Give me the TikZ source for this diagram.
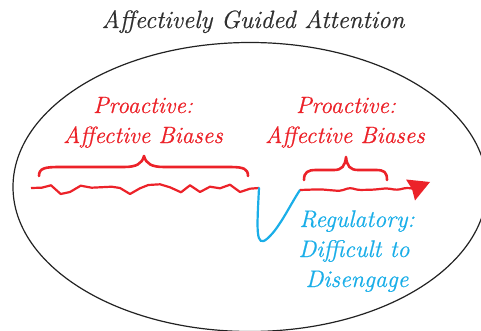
\documentclass[tikz,border=0pt]{standalone}
\usepackage{fontspec}
\newfontfamily\figfont{Latin Modern Roman}[FakeBold=0.6]
\definecolor{affred}{HTML}{EC2229}
\definecolor{affblue}{HTML}{1AAEE8}
\definecolor{titlegray}{HTML}{303030}
\definecolor{ringgray}{HTML}{222222}
\begin{document}
\begin{tikzpicture}[x=1pt,y=-1pt,
  titletext/.style={anchor=base,inner sep=0pt,text=titlegray,font=\figfont\fontsize{25}{29}\selectfont\itshape},
  redtext/.style={anchor=base,inner sep=0pt,text=affred,font=\figfont\fontsize{23.5}{27}\selectfont\itshape},
  bluetext/.style={anchor=base,inner sep=0pt,text=affblue,font=\figfont\fontsize{24}{28}\selectfont\itshape},
  bracepath/.style={draw=affred,line width=2.6pt,line cap=round,line join=round},
  wavepath/.style={draw=affred,line width=2.2pt,line join=round},
  bluepath/.style={draw=affblue,line width=2.2pt,line cap=round},
  ring/.style={draw=ringgray,line width=1.2pt}]
\useasboundingbox (0,0) rectangle (481,331);
\begin{scope}
\clip (0,0) rectangle (481,331);
\draw[ring] (250,187) ellipse[x radius=237,y radius=144.5];
\end{scope}
\node[titletext] (title) at (253,28) {Affectively Guided Attention};
\node[redtext] (pro1) at (143,113) {Proactive:};
\node[redtext] (bias1) at (143,143) {Affective Biases};
\node[redtext] (pro2) at (346,113) {Proactive:};
\node[redtext] (bias2) at (345,143) {Affective Biases};
\node[bluetext] (reg1) at (357,227) {Regulatory:};
\node[bluetext] (reg2) at (354,257) {Difficult to};
\node[bluetext] (reg3) at (357,287) {Disengage};
% braces
\draw[bracepath] (39,176) .. controls (39,168) and (45,167) .. (60,167) -- (124,167)
  .. controls (136,167) and (142,164) .. (144,156)
  .. controls (146,164) and (152,167) .. (164,167) -- (230,167)
  .. controls (244,167) and (248,169) .. (248,176);
\draw[bracepath] (304,180) .. controls (304,172) and (308,170) .. (316,170) -- (334,170)
  .. controls (342,170) and (345,166) .. (346,157)
  .. controls (347,166) and (350,170) .. (358,170) -- (376,170)
  .. controls (384,170) and (387,172) .. (387,180);
% wavy attention line
\coordinate (w0) at (31,188);
\coordinate (dip) at (259,188);
\coordinate (rise) at (300,190);
\coordinate (tip) at (430,182);
\draw[wavepath] (w0) -- (41.7,187.7) -- (51,185.3) -- (60.7,194) -- (70,192) -- (80.7,185.7)
  -- (91.7,187.7) -- (100,187.3) -- (111.7,186.7) -- (120,188) -- (130,194) -- (140,188.3)
  -- (148.3,185) -- (160,184.3) -- (170,187.3) -- (181,192.3) -- (190,185.3) -- (200,192)
  -- (210,186.7) -- (220,188.3) -- (230,184.7) -- (240,192) -- (250,188.7) -- (dip);
\draw[bluepath] (dip) .. controls (257,228) and (255,250) .. (268,238)
  .. controls (280,227) and (290,205) .. (rise);
\draw[wavepath,rounded corners=3pt] (rise) -- (320,189.3) -- (340,191) -- (350,187.7) -- (358,190)
  -- (373,189.7) -- (387,188.3) -- (397,190) -- (407,187.7) -- (418,189.5);
\fill[affred] (406,179.5) -- (tip) -- (415,200.5) -- (412,189) -- cycle;
\end{tikzpicture}
\end{document}
